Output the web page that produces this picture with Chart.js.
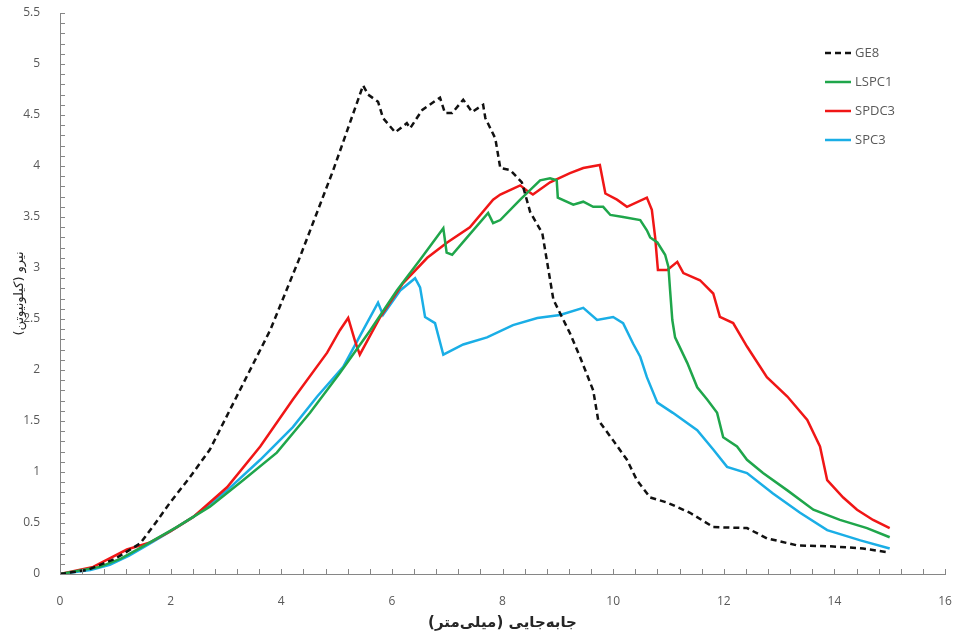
<!DOCTYPE html>
<html>
<head>
<meta charset="utf-8">
<script src="https://cdn.jsdelivr.net/npm/chart.js@4.4.1/dist/chart.umd.min.js"></script>
<style>
  html, body { margin: 0; padding: 0; background: #fff; }
  #wrap { width: 955px; height: 639px; position: relative; }
</style>
</head>
<body>
<div id="wrap"><canvas id="chart"></canvas></div>
<script>
// Force-displacement curves
const ge8X = [0, 0.5, 1.0, 1.45, 1.7, 1.99, 2.35, 2.71, 3.25, 3.80, 4.34, 4.94, 5.48, 5.57, 5.75, 5.84, 6.06, 6.27, 6.33, 6.55, 6.87, 6.96, 7.09, 7.29, 7.45, 7.65, 7.69, 7.87, 7.96, 8.14, 8.35, 8.50, 8.72, 8.92, 9.22, 9.40, 9.64, 9.73, 10.0, 10.25, 10.43, 10.67, 10.98, 11.39, 11.81, 12.42, 12.78, 13.33, 13.98, 14.52, 15.0];
const ge8Y = [0, 0.04, 0.15, 0.30, 0.48, 0.70, 0.95, 1.22, 1.80, 2.39, 3.11, 3.96, 4.79, 4.70, 4.63, 4.47, 4.33, 4.42, 4.37, 4.55, 4.67, 4.52, 4.52, 4.65, 4.53, 4.60, 4.47, 4.27, 3.98, 3.96, 3.84, 3.55, 3.34, 2.69, 2.36, 2.13, 1.80, 1.51, 1.31, 1.12, 0.92, 0.75, 0.70, 0.60, 0.46, 0.45, 0.35, 0.28, 0.27, 0.25, 0.21];

const lspc1X = [0, 0.72, 1.1, 1.50, 2.11, 2.71, 3.31, 3.92, 4.52, 5.06, 5.61, 6.09, 6.51, 6.93, 6.99, 7.09, 7.36, 7.74, 7.83, 7.96, 8.32, 8.68, 8.86, 8.98, 9.0, 9.28, 9.46, 9.64, 9.82, 9.95, 10.18, 10.49, 10.61, 10.67, 10.80, 10.94, 11.0, 11.03, 11.07, 11.12, 11.34, 11.52, 11.70, 11.88, 11.99, 12.24, 12.42, 12.71, 13.15, 13.62, 14.10, 14.59, 15.0];
const lspc1Y = [0, 0.07, 0.15, 0.27, 0.46, 0.66, 0.92, 1.19, 1.58, 1.97, 2.39, 2.78, 3.08, 3.39, 3.15, 3.13, 3.30, 3.54, 3.44, 3.47, 3.67, 3.86, 3.88, 3.86, 3.69, 3.62, 3.65, 3.60, 3.60, 3.52, 3.50, 3.47, 3.37, 3.30, 3.25, 3.13, 3.01, 2.78, 2.49, 2.32, 2.07, 1.83, 1.71, 1.58, 1.34, 1.25, 1.12, 0.99, 0.82, 0.63, 0.53, 0.45, 0.36];

const spdc3X = [0, 0.60, 1.21, 1.63, 2.0, 2.41, 3.02, 3.62, 4.21, 4.83, 5.06, 5.21, 5.33, 5.42, 5.79, 6.20, 6.64, 7.0, 7.41, 7.83, 7.96, 8.32, 8.44, 8.55, 8.86, 9.22, 9.46, 9.76, 9.86, 10.07, 10.25, 10.61, 10.70, 10.76, 10.81, 10.98, 11.16, 11.27, 11.57, 11.81, 11.93, 12.17, 12.42, 12.78, 13.15, 13.51, 13.74, 13.87, 14.16, 14.41, 14.70, 15.0];
const spdc3Y = [0, 0.07, 0.24, 0.31, 0.42, 0.56, 0.85, 1.25, 1.71, 2.17, 2.39, 2.51, 2.29, 2.15, 2.52, 2.85, 3.10, 3.25, 3.40, 3.67, 3.72, 3.81, 3.76, 3.72, 3.84, 3.93, 3.98, 4.01, 3.73, 3.67, 3.60, 3.69, 3.57, 3.30, 2.98, 2.98, 3.06, 2.95, 2.88, 2.75, 2.52, 2.46, 2.23, 1.93, 1.74, 1.51, 1.25, 0.92, 0.75, 0.63, 0.53, 0.45];

const spc3X = [0, 0.55, 0.90, 1.25, 1.63, 2.0, 2.41, 3.02, 3.62, 4.21, 4.65, 5.12, 5.48, 5.75, 5.84, 6.15, 6.42, 6.51, 6.60, 6.78, 6.93, 7.29, 7.72, 8.19, 8.63, 9.04, 9.46, 9.71, 10.0, 10.18, 10.36, 10.49, 10.61, 10.80, 11.08, 11.52, 11.81, 12.06, 12.42, 12.89, 13.38, 13.87, 14.47, 15.0];
const spc3Y = [0, 0.04, 0.09, 0.18, 0.30, 0.42, 0.56, 0.82, 1.12, 1.44, 1.74, 2.03, 2.39, 2.66, 2.54, 2.78, 2.90, 2.81, 2.52, 2.46, 2.15, 2.25, 2.32, 2.44, 2.51, 2.54, 2.61, 2.49, 2.52, 2.46, 2.26, 2.13, 1.93, 1.68, 1.58, 1.41, 1.22, 1.05, 0.99, 0.79, 0.60, 0.43, 0.33, 0.25];

const seriesNames = ['GE8', 'LSPC1', 'SPDC3', 'SPC3'];
const seriesColors = ['#111111', '#1fa64b', '#f01616', '#1aaee6'];
const xTitle = 'جابه‌جایی (میلی‌متر)';
const yTitle = 'نیرو (کیلونیوتن)';

function pts(xs, ys) {
  return xs.map((x, i) => ({ x: x, y: ys[i] }));
}

// Small inward tick marks (minor 0.4 on x, 0.1 on y) plus the in-plot legend
const innerTicks = {
  id: 'innerTicks',
  afterDatasetsDraw(chart) {
    const { ctx, chartArea: a, scales: { x, y } } = chart;
    ctx.save();
    ctx.strokeStyle = '#868686';
    ctx.lineWidth = 1;
    ctx.beginPath();
    for (let i = 0; i <= 40; i++) {
      const px = Math.round(x.getPixelForValue(i * 0.4)) + 0.5;
      ctx.moveTo(px, a.bottom);
      ctx.lineTo(px, a.bottom - 5);
    }
    for (let i = 0; i <= 55; i++) {
      const py = Math.round(y.getPixelForValue(i * 0.1)) + 0.5;
      ctx.moveTo(a.left, py);
      ctx.lineTo(a.left + 5, py);
    }
    ctx.stroke();

    // legend
    ctx.font = '13px "Open Sans", sans-serif';
    ctx.textBaseline = 'middle';
    ctx.fillStyle = '#595959';
    chart.data.datasets.forEach((ds, i) => {
      const ly = a.top + 40 + i * 29;
      const lx = a.right - 120;
      ctx.beginPath();
      ctx.strokeStyle = ds.borderColor;
      ctx.lineWidth = 2.5;
      ctx.setLineDash(ds.borderDash || []);
      ctx.moveTo(lx, ly);
      ctx.lineTo(lx + 26, ly);
      ctx.stroke();
      ctx.setLineDash([]);
      ctx.fillText(ds.label, lx + 30, ly);
    });
    ctx.restore();
  }
};

const ctx = document.getElementById('chart').getContext('2d');
const chart = new Chart(ctx, {
  type: 'line',
  data: {
    datasets: [
      { label: seriesNames[0], data: pts(ge8X, ge8Y), borderColor: seriesColors[0], borderDash: [6, 4] },
      { label: seriesNames[1], data: pts(lspc1X, lspc1Y), borderColor: seriesColors[1] },
      { label: seriesNames[2], data: pts(spdc3X, spdc3Y), borderColor: seriesColors[2] },
      { label: seriesNames[3], data: pts(spc3X, spc3Y), borderColor: seriesColors[3] }
    ]
  },
  options: {
    responsive: true,
    maintainAspectRatio: false,
    animation: false,
    elements: {
      point: { radius: 0 },
      line: { borderWidth: 2.5, tension: 0, fill: false }
    },
    layout: { padding: { top: 13, right: 10, left: 0, bottom: 0 } },
    plugins: {
      legend: { display: false },
      tooltip: { enabled: false }
    },
    scales: {
      x: {
        type: 'linear',
        min: 0,
        max: 16,
        grid: { display: false },
        border: { display: true, color: '#868686', width: 1 },
        ticks: { stepSize: 2, padding: 12, color: '#595959', font: { family: 'Open Sans', size: 12 } },
        title: {
          display: true,
          text: xTitle,
          color: '#262626',
          padding: { top: 6, bottom: 7 },
          font: { family: 'DejaVu Sans', size: 15, weight: 'bold' }
        },
        afterFit(scale) {
          scale.height = 65;
          scale.paddingRight = 0;
          scale.paddingLeft = 0;
        }
      },
      y: {
        min: 0,
        max: 5.5,
        grid: { display: false },
        border: { display: true, color: '#868686', width: 1 },
        ticks: {
          stepSize: 0.5,
          padding: 12,
          color: '#595959',
          font: { family: 'Open Sans', size: 12 },
          callback: v => String(+v.toFixed(1))
        },
        title: {
          display: true,
          text: yTitle,
          color: '#262626',
          padding: { top: 12, bottom: 4 },
          font: { family: 'DejaVu Sans', size: 13 }
        },
        afterFit(scale) {
          scale.width = 60;
          scale.paddingTop = 0;
          scale.paddingBottom = 0;
        }
      }
    }
  },
  plugins: [innerTicks]
});
</script>
</body>
</html>
